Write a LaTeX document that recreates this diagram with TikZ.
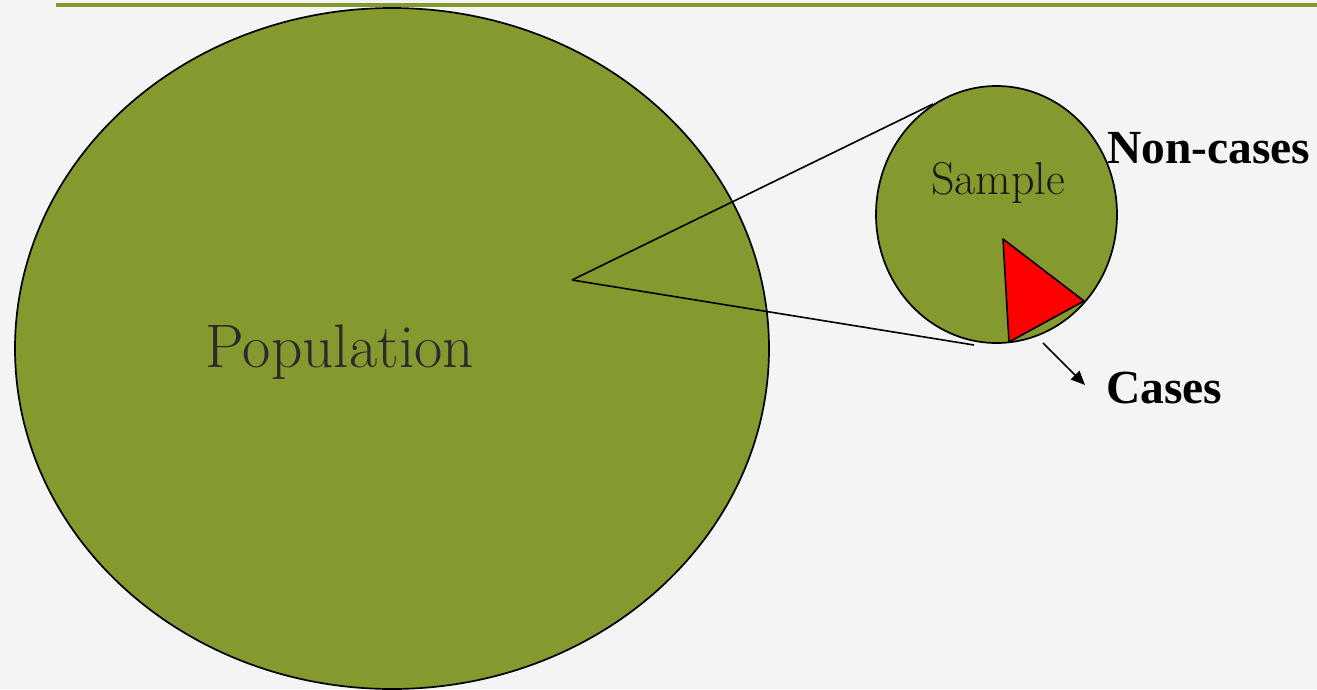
\documentclass[tikz,border=0pt]{standalone}
\usepackage{fontspec}
\usetikzlibrary{shapes.geometric,arrows.meta}
\newfontfamily\timesfont{Liberation Serif}
\definecolor{olivegreen}{RGB}{132,153,46}
\definecolor{bgpaper}{RGB}{244,244,244}
\definecolor{textgray}{RGB}{43,43,43}
\begin{document}
\begin{tikzpicture}[x=1pt,y=-1pt,
  blob/.style={ellipse,draw=black,line width=1.7pt,fill=olivegreen,inner sep=0pt},
  seg/.style={draw=black,line width=1.6pt},
  bold label/.style={font=\timesfont\bfseries\fontsize{47.5}{52}\selectfont,anchor=west,inner sep=0pt}
]
\fill[bgpaper] (0,0) rectangle (1317,689);
\useasboundingbox (0,0) rectangle (1317,689);
\draw[olivegreen,line width=3.5pt] (56,5) -- (1317,5);
% population
\node[blob,minimum width=754pt,minimum height=681pt] (pop) at (392,348.5) {};
\node[text=textgray,font=\fontsize{61.5}{66}\selectfont,inner sep=0pt] (poplabel) at (340,352) {Population};
% connectors
\coordinate (apex) at (572,280);
\coordinate (tA) at (933,104);
\coordinate (tB) at (974,345);
\draw[seg] (apex) -- (tA);
\draw[seg] (apex) -- (tB);
% sample
\node[blob,minimum width=241pt,minimum height=257pt] (samp) at (996.5,214.5) {};
\node[text=black!90,font=\fontsize{46}{50}\selectfont,inner sep=0pt] (samplabel) at (998,183) {Sample};
% cases wedge
\coordinate (w1) at (1003,239);
\coordinate (w2) at (1084,301);
\coordinate (w3) at (1009,342);
\draw[seg,fill=red,line join=round] (w1) -- (w2) -- (w3) -- cycle;
% labels
\node[bold label] (noncases) at (1107,148) {Non-cases};
\node[bold label] (cases) at (1106,388) {Cases};
\coordinate (arrs) at (1043,343);
\coordinate (arre) at (1085,385);
\draw[seg,-{Triangle[length=14pt,width=12pt]}] (arrs) -- (arre);
\end{tikzpicture}
\end{document}
